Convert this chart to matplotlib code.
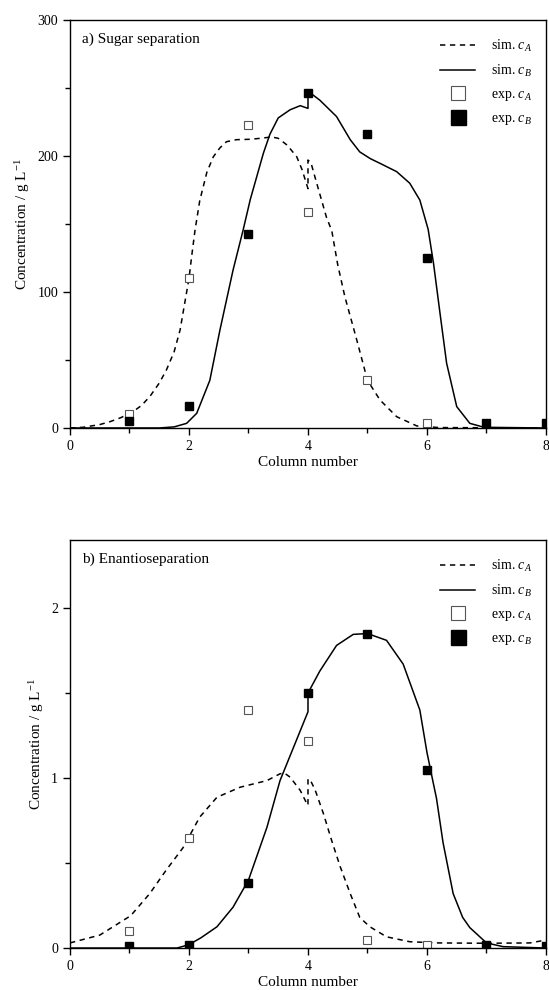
import numpy as np
import matplotlib.pyplot as plt
from matplotlib.ticker import MultipleLocator

plt.rcParams['font.family'] = ['Liberation Serif', 'DejaVu Serif']
plt.rcParams['mathtext.fontset'] = 'custom'
plt.rcParams['mathtext.rm'] = 'Liberation Serif'
plt.rcParams['mathtext.it'] = 'Liberation Serif:italic'

# experimental points, column number 1..8
col_exp = [1, 2, 3, 4, 5, 6, 7, 8]
sugar_exp_a = [10, 110, 223, 159, 35, 3.5, np.nan, np.nan]
sugar_exp_b = [5, 16, 143, 246, 216, 125, 3.5, 3.5]
enan_exp_a = [0.10, 0.65, 1.40, 1.22, 0.05, 0.02, np.nan, np.nan]
enan_exp_b = [0.01, 0.02, 0.38, 1.50, 1.85, 1.05, 0.02, 0.01]

# simulated profiles
sugar_sim_a_x = [0, 0.22, 0.5, 0.67, 0.85, 1.06, 1.2, 1.34, 1.5, 1.62, 1.75, 1.85, 2.0, 2.05,
                 2.1, 2.18, 2.3, 2.41, 2.52, 2.63, 2.8, 3.03, 3.2, 3.39, 3.5, 3.65, 3.81, 3.9,
                 4.0, 4.0, 4.05, 4.14, 4.31, 4.4, 4.5, 4.62, 4.82, 5.0, 5.21, 5.49, 5.83, 6.2, 8.0]
sugar_sim_a_y = [0, 0.5, 2.5, 4.6, 7.5, 12, 16.5, 23, 33, 42.6, 56, 72, 110, 128,
                 145, 167, 188, 199.5, 206, 210.5, 212, 212.3, 213, 214, 213, 208, 199.5, 190,
                 176, 197, 195, 181, 155, 145, 120, 96.5, 64.7, 35, 20.6, 8.3, 1.5, 0.3, 0]

sugar_sim_b_x = [0, 1.5, 1.75, 1.96, 2.13, 2.35, 2.52, 2.74, 2.91, 3.03, 3.25, 3.36, 3.5, 3.7,
                 3.87, 4.0, 4.0, 4.05, 4.2, 4.48, 4.71, 4.87, 5.05, 5.21, 5.49, 5.71, 5.88,
                 6.02, 6.11, 6.22, 6.33, 6.5, 6.72, 6.96, 8.0]
sugar_sim_b_y = [0, 0, 0.8, 3.4, 10.8, 35, 72, 116, 145.6, 168, 202, 216, 228, 234,
                 237, 235, 246, 246, 241, 229, 212, 203, 198, 194.6, 188.5, 180, 167.6,
                 146, 121, 84, 47.6, 15.7, 3.4, 0.5, 0]

enan_sim_a_x = [0, 0.5, 1.02, 1.34, 1.62, 1.9, 2.18, 2.47, 2.86, 3.31, 3.53, 3.6, 3.7, 3.87,
                3.98, 4.0, 4.0, 4.05, 4.12, 4.26, 4.4, 4.54, 4.71, 4.87, 5.04, 5.32, 5.71,
                6.18, 7.0, 7.73, 8.0]
enan_sim_a_y = [0.03, 0.076, 0.19, 0.32, 0.46, 0.59, 0.77, 0.887, 0.946, 0.985, 1.025, 1.03,
                1.005, 0.927, 0.85, 0.84, 0.995, 0.98, 0.93, 0.79, 0.63, 0.48, 0.32, 0.18,
                0.125, 0.066, 0.037, 0.03, 0.028, 0.03, 0.047]

enan_sim_b_x = [0, 1.8, 2.0, 2.2, 2.47, 2.74, 3.0, 3.31, 3.53, 4.0, 4.0, 4.2, 4.48, 4.76, 5.0,
                5.32, 5.6, 5.88, 6.0, 6.1, 6.16, 6.27, 6.44, 6.6, 6.72, 7.0, 7.28, 8.0]
enan_sim_b_y = [0, 0, 0.02, 0.06, 0.125, 0.24, 0.40, 0.71, 0.985, 1.39, 1.5, 1.63, 1.78, 1.845,
                1.85, 1.81, 1.67, 1.40, 1.15, 0.98, 0.88, 0.62, 0.32, 0.18, 0.12, 0.03, 0.008, 0]

panels = [
    ("a) Sugar separation", sugar_sim_a_x, sugar_sim_a_y, sugar_sim_b_x, sugar_sim_b_y,
     sugar_exp_a, sugar_exp_b, 300, 100, 50),
    ("b) Enantioseparation", enan_sim_a_x, enan_sim_a_y, enan_sim_b_x, enan_sim_b_y,
     enan_exp_a, enan_exp_b, 2.4, 1, 0.5),
]

fig = plt.figure(figsize=(5.49, 9.90), dpi=100)
boxes = [[0.1275, 0.5677, 0.867, 0.4121], [0.1275, 0.0424, 0.867, 0.4121]]

for box, (title, xa, ya, xb, yb, ea, eb, ymax, ymaj, ymin) in zip(boxes, panels):
    ax = fig.add_axes(box)
    ax.plot(xa, ya, color='black', lw=1.1, ls=(0, (3.5, 3)), label=r'sim. $c_{A}$')
    ax.plot(xb, yb, color='black', lw=1.1, label=r'sim. $c_{B}$')
    ax.plot(col_exp, ea, ls='none', marker='s', ms=5.5, mfc='white', mec='#555555',
            mew=0.8, label=r'exp. $c_{A}$')
    ax.plot(col_exp, eb, ls='none', marker='s', ms=6, mfc='black', mec='black',
            label=r'exp. $c_{B}$')
    ax.set_xlim(0, 8)
    ax.set_ylim(0, ymax)
    ax.xaxis.set_major_locator(MultipleLocator(2))
    ax.xaxis.set_minor_locator(MultipleLocator(1))
    ax.yaxis.set_major_locator(MultipleLocator(ymaj))
    ax.yaxis.set_minor_locator(MultipleLocator(ymin))
    ax.tick_params(which='both', direction='out', top=False, right=False, labelsize=10,
                   width=1.0)
    ax.tick_params(which='major', length=5)
    ax.tick_params(which='minor', length=3.5)
    for s in ax.spines.values():
        s.set_linewidth(1.0)
    ax.set_xlabel('Column number', fontsize=11, labelpad=2)
    ax.set_ylabel(r'Concentration / g L$^{\mathregular{-1}}$', fontsize=11, labelpad=4)
    ax.text(0.026, 0.953, title, transform=ax.transAxes, fontsize=11, va='center', ha='left')
    ax.legend(loc='upper right', bbox_to_anchor=(1.0, 0.99), frameon=False, fontsize=10,
              markerscale=1.8, handlelength=2.5, labelspacing=0.65, borderaxespad=0.6,
              handletextpad=1.15)

fig.savefig('out.png', dpi=100)
